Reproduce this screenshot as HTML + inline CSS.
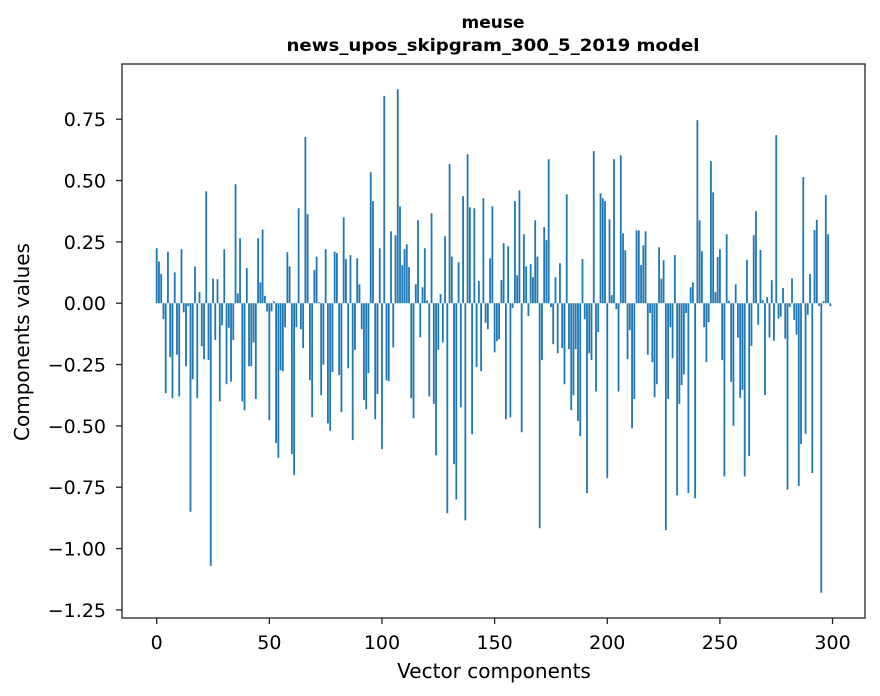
<!DOCTYPE html>
<html><head><meta charset="utf-8"><style>
body{margin:0;background:#fff;}
svg{display:block;font-family:"DejaVu Sans","Liberation Sans",sans-serif;}
</style></head><body>
<svg id="chart" width="880" height="696" viewBox="0 0 880 696">
<rect width="880" height="696" fill="#fff"/>
<text x="493" y="28" text-anchor="middle" font-size="17" font-weight="bold">meuse</text>
<text x="493" y="51" text-anchor="middle" font-size="17" font-weight="bold" textLength="413" lengthAdjust="spacingAndGlyphs">news_upos_skipgram_300_5_2019 model</text>
<g id="bars"></g>
<rect x="122" y="64" width="743" height="554" fill="none" stroke="#222" stroke-width="1.3"/>
<g id="xt"></g>
<g id="yt"></g>
<text x="494" y="678" text-anchor="middle" font-size="20">Vector components</text>
<text transform="translate(29,342) rotate(-90)" text-anchor="middle" font-size="20">Components values</text>
</svg>
<script>
const values = [
0.224,0.17,0.12,-0.065,-0.367,0.21,-0.22,-0.387,0.126,-0.21,
-0.38,0.22,-0.037,-0.257,-0.012,-0.85,-0.31,0.15,-0.387,0.045,
-0.175,-0.228,0.456,-0.232,-1.07,0.10,-0.15,0.098,-0.40,-0.09,
0.22,-0.33,-0.10,-0.32,-0.15,0.485,0.04,0.265,-0.40,-0.436,
0.143,-0.257,-0.257,-0.16,-0.39,0.265,0.085,0.30,0.03,-0.033,
-0.477,-0.033,0.008,-0.57,-0.63,-0.273,-0.277,-0.098,0.208,0.15,
-0.615,-0.70,-0.098,0.387,-0.106,-0.183,0.677,0.363,-0.314,-0.465,
0.135,0.19,0.004,-0.375,-0.25,0.22,-0.49,-0.52,-0.28,0.21,
0.204,-0.293,-0.444,0.35,0.18,-0.265,0.196,-0.558,-0.19,0.183,
0.077,-0.106,-0.395,-0.432,-0.285,0.534,0.416,-0.473,-0.37,0.224,
-0.595,0.844,-0.314,-0.318,0.293,-0.18,0.277,0.872,0.395,0.155,
0.22,0.24,0.147,-0.387,-0.469,0.077,0.338,-0.139,0.065,0.224,
0.012,-0.38,0.367,-0.41,-0.62,-0.19,0.037,-0.16,0.273,-0.856,
0.567,0.19,-0.656,-0.80,0.167,-0.424,0.436,-0.885,0.607,0.391,
-0.534,0.387,-0.26,0.09,-0.277,0.428,-0.08,-0.106,0.183,0.395,
-0.20,-0.155,-0.147,0.094,0.245,-0.473,0.232,-0.465,-0.02,0.416,
0.114,0.46,-0.526,0.281,0.15,-0.053,0.159,0.106,0.338,0.19,
-0.917,-0.232,0.31,0.257,0.587,-0.016,-0.167,0.106,-0.204,0.163,
-0.183,-0.33,0.444,-0.187,-0.436,-0.375,-0.187,-0.48,-0.542,0.18,
-0.065,-0.774,-0.204,-0.232,0.62,-0.36,-0.118,0.448,0.428,0.416,
-0.713,0.342,0.033,0.587,-0.024,-0.36,0.603,0.285,0.216,-0.228,
-0.11,-0.51,-0.39,0.297,0.297,0.155,0.236,0.293,-0.21,-0.04,
-0.24,-0.383,-0.33,0.228,0.10,0.175,-0.925,-0.39,-0.098,-0.224,
0.196,-0.783,-0.41,-0.334,-0.29,-0.04,-0.774,0.065,0.085,-0.795,
0.746,0.338,0.212,-0.098,-0.24,-0.077,0.579,0.452,0.045,0.188,
0.22,-0.232,-0.706,0.281,0.01,-0.32,-0.50,0.077,-0.14,-0.386,
-0.353,-0.706,0.177,-0.623,-0.174,0.277,0.375,-0.088,0.217,0.012,
-0.374,0.025,-0.14,0.094,-0.153,0.685,-0.063,-0.055,0.062,-0.145,
-0.76,-0.015,0.102,-0.068,-0.128,-0.745,-0.574,0.514,-0.532,-0.047,
0.119,-0.692,0.298,0.34,-0.011,-1.18,0.008,0.441,0.281,-0.012
];
const xTicks = [0,50,100,150,200,250,300];
const yTicks = [0.75,0.5,0.25,0,-0.25,-0.5,-0.75,-1.0,-1.25];
const NS="http://www.w3.org/2000/svg";
const L=122,R=865,T=64,B=618;
const xmin=-15.4,xmax=314.4,ymin=-1.283,ymax=0.975;
function xs(v){return L+(v-xmin)/(xmax-xmin)*(R-L);}
function ys(v){return T+(ymax-v)/(ymax-ymin)*(B-T);}
const bars=document.getElementById('bars');
values.forEach((v,i)=>{
  const r=document.createElementNS(NS,'rect');
  const x0=xs(i-0.4),x1=xs(i+0.4);
  const y0=ys(Math.max(v,0)),y1=ys(Math.min(v,0));
  r.setAttribute('x',x0);r.setAttribute('width',x1-x0);
  r.setAttribute('y',y0);r.setAttribute('height',Math.max(y1-y0,0.3));
  r.setAttribute('fill','#1f77b4');
  
  
  bars.appendChild(r);
});
const xt=document.getElementById('xt');
xTicks.forEach(t=>{
  const x=xs(t);
  const l=document.createElementNS(NS,'line');
  l.setAttribute('x1',x);l.setAttribute('x2',x);l.setAttribute('y1',B);l.setAttribute('y2',B+6);
  l.setAttribute('stroke','#222');l.setAttribute('stroke-width','1.3');
  
  
  xt.appendChild(l);
  const tx=document.createElementNS(NS,'text');
  tx.setAttribute('x',x);tx.setAttribute('y',B+31);tx.setAttribute('text-anchor','middle');tx.setAttribute('font-size','19');
  tx.textContent=t;
  
  
  xt.appendChild(tx);
});
const yt=document.getElementById('yt');
yTicks.forEach(t=>{
  const y=ys(t);
  const l=document.createElementNS(NS,'line');
  l.setAttribute('x1',L-6);l.setAttribute('x2',L);l.setAttribute('y1',y);l.setAttribute('y2',y);
  l.setAttribute('stroke','#222');l.setAttribute('stroke-width','1.3');
  
  
  yt.appendChild(l);
  const tx=document.createElementNS(NS,'text');
  tx.setAttribute('x',L-16);tx.setAttribute('y',y+7);tx.setAttribute('text-anchor','end');tx.setAttribute('font-size','19');
  tx.textContent=(t<0?'\u2212':'')+Math.abs(t).toFixed(2);
  
  
  yt.appendChild(tx);
});
</script>
</body></html>
